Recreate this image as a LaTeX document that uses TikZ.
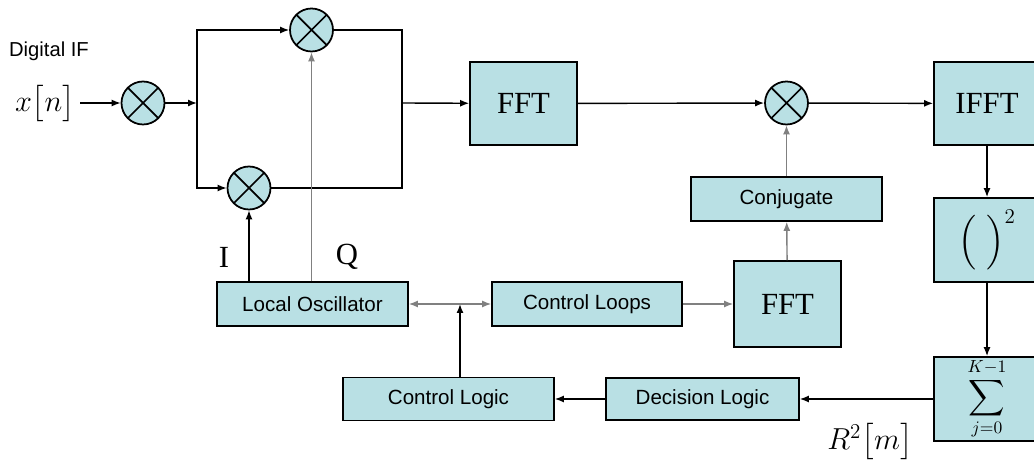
\documentclass[tikz,border=0pt]{standalone}
\usepackage{amsmath}
\usepackage{fontspec}
\setmainfont{Liberation Serif}
\setsansfont{Liberation Sans}
\usetikzlibrary{arrows.meta}
\definecolor{boxfill}{RGB}{185,224,228}

\begin{document}
\begin{tikzpicture}
	[x=0.02cm,y=-0.02cm,line width=0.8pt,
	>={Latex[length=0.18cm,width=0.14cm]},
	blk/.style={rectangle,draw,fill=boxfill,line width=1pt,inner sep=0pt},
	big/.style={blk,font=\fontsize{17.5}{20}\selectfont},
	small/.style={blk,font=\sffamily\fontsize{11.7}{14}\selectfont,minimum height=0.88cm},
	mixer/.style={circle,draw,fill=boxfill,line width=1pt,minimum size=0.86cm,inner sep=0pt,
		path picture={\draw[line width=1pt] (path picture bounding box.north west) -- (path picture bounding box.south east)
			(path picture bounding box.north east) -- (path picture bounding box.south west);}},
	lbl/.style={font=\fontsize{17.5}{20}\selectfont,inner sep=1pt},
	faint/.style={black!50}]
		\useasboundingbox (0,0) rectangle (1034,465);
		\node[font=\sffamily\fontsize{11.5}{14}\selectfont,inner sep=1pt] (dif) at (49,51) {Digital IF};
		\node[lbl] (xn) at (45,104) {$x\big[n\big]$};
		\node[mixer] (m0) at (143,103) {};
		\node[mixer] (mq) at (311.5,30) {};
		\node[mixer] (mi) at (249,188) {};
		\node[big,minimum width=2.14cm,minimum height=1.66cm] (fft1) at (523.5,103.5) {FFT};
		\node[mixer] (mc) at (786.5,103) {};
		\node[big,minimum width=2.12cm,minimum height=1.66cm] (ifft) at (987,103.5) {IFFT};
		\node[big,minimum width=2.12cm,minimum height=1.68cm] (sq) at (987,240) {$\Big(\,\,\Big)^{2}$};
		\node[blk,font=\fontsize{14}{16}\selectfont,minimum width=2.12cm,minimum height=1.68cm] (sum) at (987,399)
			{$\displaystyle\sum_{j=0}^{K-1}$};
		\node[small,minimum width=3.82cm] (conj) at (786.5,199) {Conjugate};
		\node[big,minimum width=2.14cm,minimum height=1.72cm] (fft2) at (787.5,304) {FFT};
		\node[small,minimum width=3.80cm] (loops) at (587,304) {Control Loops};
		\node[small,minimum width=3.82cm] (lo) at (312.5,304) {Local Oscillator};
		\node[small,minimum width=4.22cm,minimum height=0.86cm] (clogic) at (448.5,399) {Control Logic};
		\node[small,minimum width=3.86cm,minimum height=0.84cm] (dlogic) at (702.5,399) {Decision Logic};
		\node[lbl] (ilbl) at (224,257) {I};
		\node[lbl] (qlbl) at (347,257) {Q};
		\node[lbl] (rlbl) at (870,442) {$R^{2}\big[m\big]$};
		\coordinate (split) at (197,103);
		\coordinate (join) at (402,103);
		\coordinate (tap) at (460,304);
		\draw[->] (xn.east |- m0) ++(0.06cm,0) -- (m0);
		\draw[->] (m0) -- (split);
		\draw[->] (split) |- (mq);
		\draw[->] (split) |- (mi);
		\draw (mq) -| (join);
		\draw (mi) -| (join);
		\draw[->] (join) -- (fft1);
		\draw[->] (fft1) -- (mc);
		\draw[->] (mc) -- (ifft);
		\draw[->] (ifft) -- (sq);
		\draw[->] (sq) -- (sum);
		\draw[->] (sum) -- (dlogic);
		\draw[->] (dlogic) -- (clogic);
		\draw[->] (clogic.north -| tap) -- (tap);
		\draw[<->,faint] (lo) -- (loops);
		\draw[->,faint] (loops) -- (fft2);
		\draw[->,faint] (fft2) -- (conj);
		\draw[->,faint] (conj) -- (mc);
		\draw[->] (lo.north -| mi) -- (mi);
		\draw[->,faint] (lo.north -| mq) -- (mq);
	\end{tikzpicture}
\end{document}
